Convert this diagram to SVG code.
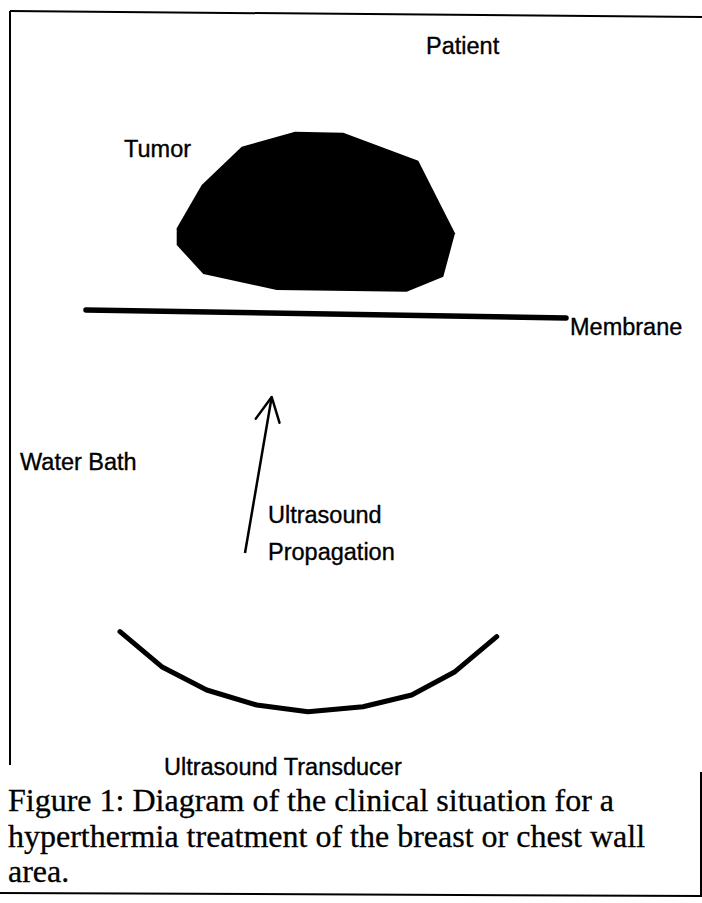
<svg xmlns="http://www.w3.org/2000/svg" width="702" height="903" viewBox="0 0 702 903">
<style>
.lbl{font-family:"Liberation Sans",Arial,sans-serif;font-size:23.5px;fill:#000;stroke:#000;stroke-width:0.35;}
.cap{font-family:"Liberation Serif","Times New Roman",serif;font-size:32px;fill:#000;stroke:#000;stroke-width:0.3;}
.frame{stroke:#000;stroke-width:2;fill:none;}
.thick{stroke:#000;fill:none;stroke-linecap:round;stroke-linejoin:round;}
</style>
<defs>
<marker id="head" viewBox="0 0 30 30" refX="27" refY="15" markerWidth="30" markerHeight="30" markerUnits="userSpaceOnUse" orient="auto">
<path d="M3,3 L27,15 L3,27" fill="none" stroke="#000" stroke-width="2.5" stroke-linecap="round" stroke-linejoin="round"/>
</marker>
</defs>
<rect width="702" height="903" fill="#fff"/>
<g id="frame">
<line class="frame" x1="10" y1="11" x2="702" y2="17"/>
<line class="frame" x1="10" y1="11" x2="10" y2="765"/>
<line class="frame" x1="701" y1="772" x2="701" y2="895"/>
<line class="frame" x1="0" y1="893" x2="702" y2="896"/>
</g>
<g id="patient">
<text class="lbl" x="426" y="54">Patient</text>
</g>
<g id="tumor">
<polygon points="295,131.7 343.3,132.7 418.3,160.7 455,233.3 443.3,276.7 406.7,291.7 276.7,290 203.3,274 176.7,245 176.7,228.3 201.7,185 241.7,146.7" fill="#000"/>
<text class="lbl" x="124" y="157">Tumor</text>
</g>
<g id="membrane">
<line class="thick" x1="86" y1="310" x2="566" y2="318" stroke-width="5.5"/>
<text class="lbl" x="570" y="335">Membrane</text>
</g>
<g id="water-bath">
<text class="lbl" x="20" y="470">Water Bath</text>
</g>
<g id="transducer">
<polyline class="thick" points="120,631.7 161.7,666.7 206.7,690 256.7,705 308,711.7 363,706.7 411.7,695 455,671.7 496.7,636.7" stroke-width="5"/>
<text class="lbl" x="164" y="775">Ultrasound Transducer</text>
</g>
<g id="connectors">
<line x1="245" y1="553" x2="271.7" y2="397" stroke="#000" stroke-width="2.5" marker-end="url(#head)"/>
</g>
<g id="propagation-label">
<text class="lbl" x="268" y="523">Ultrasound</text>
<text class="lbl" x="268" y="560">Propagation</text>
</g>
<g id="caption">
<text class="cap" x="8" y="811">Figure 1: Diagram of the clinical situation for a</text>
<text class="cap" x="8" y="847">hyperthermia treatment of the breast or chest wall</text>
<text class="cap" x="8" y="882">area.</text>
</g>
</svg>
